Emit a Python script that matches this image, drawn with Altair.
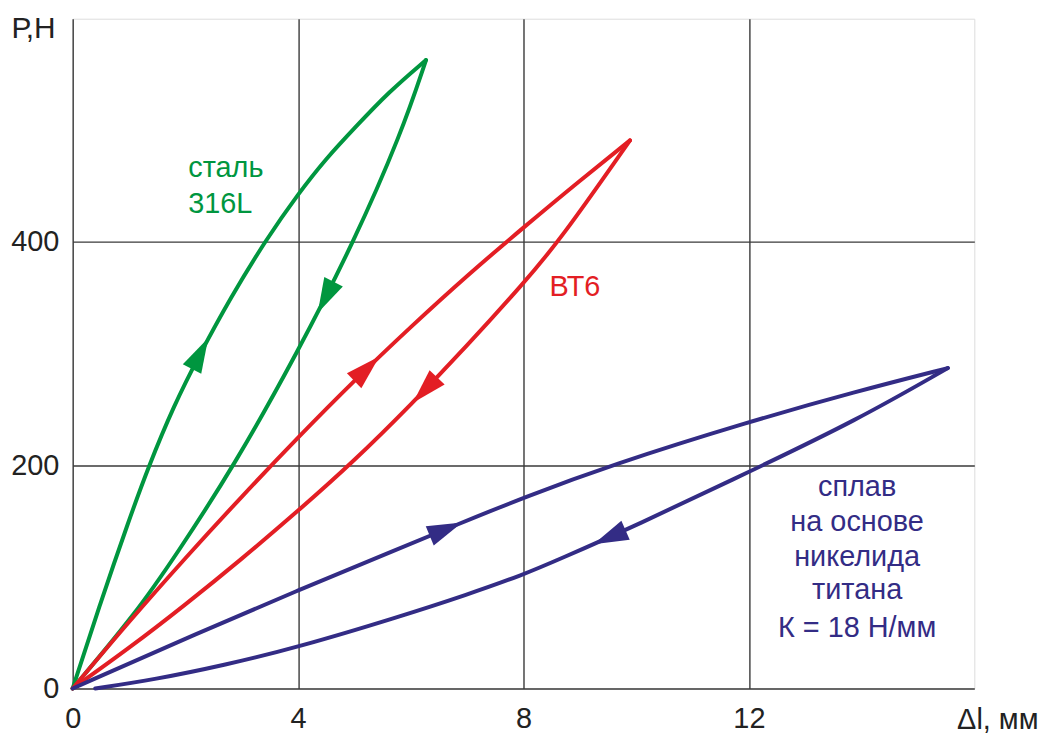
import altair as alt
import pandas as pd
import numpy as np

# ---- data (Δl in mm, P in N) ----
materials = ["сталь 316L", "ВТ6", "никелид титана"]
colors = ["#00963F", "#E31E24", "#332C85"]

steel_load_x = [0, 0.5, 1.0, 1.34, 1.8, 2.24, 2.8, 3.43, 4.0, 4.5, 5.02, 5.6, 6.27]
steel_load_y = [0, 78, 151, 198, 254, 298, 350, 402, 443, 475, 503, 534, 563]
steel_unload_x = [0, 1.13, 1.84, 2.86, 4.0, 4.98, 5.83, 6.27]
steel_unload_y = [0, 68, 120, 199, 302, 399, 497, 563]

vt6_load_x = [0, 1, 2, 3, 4, 5, 6, 7, 8, 9, 9.89]
vt6_load_y = [0, 60, 117, 172, 225, 276, 324, 370, 413, 455, 491]
vt6_unload_x = [0, 1, 2, 3, 4, 5, 6, 7, 8, 8.64, 9.89]
vt6_unload_y = [0, 36, 75, 116, 159, 204, 254, 307, 363, 401, 491]

niti_load_x = [0, 2.24, 4.0, 5.78, 6.78, 8.0, 9.54, 12.0, 13.9, 15.53]
niti_load_y = [0, 50, 88, 125, 146, 171, 200, 239, 266, 287]
niti_unload_x = [0.4, 1.45, 2.7, 4.0, 5.78, 7.0, 8.0, 8.6, 10.0, 12.0, 13.9, 15.53]
niti_unload_y = [0, 8, 21, 37, 64, 84, 102, 115, 146, 194, 240, 287]

# arrow positions (x on each branch)
arrow_x = {"steel_load": 2.25, "steel_unload": 4.5, "vt6_load": 5.2,
           "vt6_unload": 6.27, "niti_load": 6.6, "niti_unload": 9.55}

# curve labels
label_text = ["сталь", "316L", "ВТ6"]
label_x = [2.05, 2.05, 8.46]
label_y = [458, 426, 351.5]
label_mat = ["сталь 316L", "сталь 316L", "ВТ6"]

niti_text = ["сплав", "на основе", "никелида", "титана", "К = 18 Н/мм"]
niti_text_x = [13.92, 13.92, 13.92, 13.92, 13.92]
niti_text_y = [172.3, 141.1, 109.4, 80.2, 46.1]

x_ticks = [0, 4, 8, 12]
y_ticks = [0, 200, 400]

# ---- build tables ----
branches = {
    "steel_load": ("сталь 316L", steel_load_x, steel_load_y, 1),
    "steel_unload": ("сталь 316L", steel_unload_x, steel_unload_y, -1),
    "vt6_load": ("ВТ6", vt6_load_x, vt6_load_y, 1),
    "vt6_unload": ("ВТ6", vt6_unload_x, vt6_unload_y, -1),
    "niti_load": ("никелид титана", niti_load_x, niti_load_y, 1),
    "niti_unload": ("никелид титана", niti_unload_x, niti_unload_y, -1),
}

W, H = 906, 673
kx, ky = W / 16.0, H / 600.0

rows = []
arrows = []
for name, (mat, bx, by, sign) in branches.items():
    for xv, yv in zip(bx, by):
        rows.append({"curve": name, "material": mat, "x": xv, "y": yv})
    ax = arrow_x[name]
    ay = float(np.interp(ax, bx, by))
    dy = float(np.interp(ax + 0.3, bx, by) - np.interp(ax - 0.3, bx, by))
    ang = np.degrees(np.arctan2(sign * 0.6 * kx, sign * dy * ky)) % 360
    arrows.append({"material": mat, "x": ax, "y": ay, "angle": float(ang)})

lines_df = pd.DataFrame(rows)
arrows_df = pd.DataFrame(arrows)
labels_df = pd.DataFrame({"text": label_text, "x": label_x, "y": label_y, "material": label_mat})
niti_df = pd.DataFrame({"text": niti_text, "x": niti_text_x, "y": niti_text_y,
                        "material": ["никелид титана"] * len(niti_text)})

FONT = "Liberation Sans"

xscale = alt.Scale(domain=[0, 16], nice=False, zero=False)
yscale = alt.Scale(domain=[0, 600], nice=False, zero=False)
cscale = alt.Scale(domain=materials, range=colors)

x_enc = alt.X("x:Q", scale=xscale, axis=alt.Axis(
    values=x_ticks, format="d", title="Δl, мм", ticks=False, domain=False, grid=True,
    gridColor="#3a3a3a", gridWidth=1.4, labelFontSize=29, labelColor="#222",
    labelPadding=16, labelFont=FONT, labelFlush=False,
    titleFontSize=29, titleFont=FONT, titleFontWeight="normal", titleColor="#222",
    titleAlign="right", titleBaseline="alphabetic", titleX=970, titleY=40, titleAngle=0))
y_enc = alt.Y("y:Q", scale=yscale, axis=alt.Axis(
    values=y_ticks, format="d", title="Р,Н", ticks=False, domain=False, grid=True,
    gridColor="#3a3a3a", gridWidth=1.4, labelFontSize=29, labelColor="#222",
    labelPadding=14, labelFont=FONT, labelFlush=False,
    titleFontSize=30, titleFont=FONT, titleFontWeight="normal", titleColor="#222",
    titleAngle=0, titleAlign="left", titleBaseline="top", titleX=-62, titleY=-5))

base_color = alt.Color("material:N", scale=cscale, legend=None)

lines = alt.Chart(lines_df).mark_line(
    strokeWidth=4, interpolate="basis", clip=False, strokeCap="round"
).encode(x=x_enc, y=y_enc, color=base_color, detail="curve:N", order="x:Q")

arrow_shape = "M0,-1L0.55,0.85L-0.55,0.85Z"
heads = alt.Chart(arrows_df).mark_point(
    shape=arrow_shape, filled=True, size=1444, opacity=1, strokeWidth=0
).encode(x="x:Q", y="y:Q", color=base_color, angle=alt.Angle("angle:Q", scale=None))

labels = alt.Chart(labels_df).mark_text(
    fontSize=29, font=FONT, align="left", baseline="alphabetic"
).encode(x="x:Q", y="y:Q", text="text:N", color=base_color)

niti_labels = alt.Chart(niti_df).mark_text(
    fontSize=29, font=FONT, align="center", baseline="alphabetic"
).encode(x="x:Q", y="y:Q", text="text:N", color=base_color)

chart = alt.layer(lines, heads, labels, niti_labels).properties(
    width=W, height=H,
    autosize=alt.AutoSizeParams(type="none"),
    padding={"left": 65, "top": 9, "right": 64, "bottom": 44},
).configure_view(stroke="#222", strokeWidth=3).configure(font=FONT, background="white")

chart.save("out.html", embed_options={"renderer": "svg", "actions": False})
